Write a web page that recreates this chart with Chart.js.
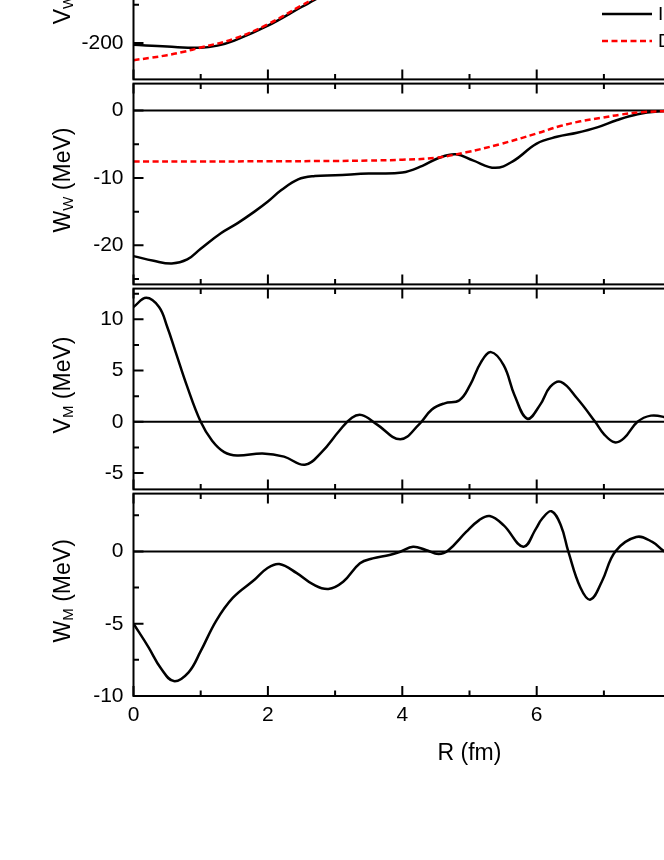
<!DOCTYPE html>
<html>
<head>
<meta charset="utf-8">
<script src="https://cdn.jsdelivr.net/npm/chart.js@4.4.1/dist/chart.umd.min.js"></script>
<style>
  html, body { margin: 0; padding: 0; background: #fff; overflow: hidden; }
  #fig { position: relative; width: 664px; height: 860px; overflow: hidden; background: #fff; }
  #fig canvas { position: absolute; left: 0; }
</style>
</head>
<body>
<div id="fig">
  <canvas id="pVW"></canvas>
  <canvas id="pWW"></canvas>
  <canvas id="pVM"></canvas>
  <canvas id="pWM"></canvas>
</div>
<script>
// R grids (fm) and potentials (MeV)
const rVW   = [0, 0.5, 1.0, 1.25, 1.5, 2.0, 2.5, 2.7, 3.0, 3.5, 4.0, 4.5, 5.0, 5.5, 6.0, 6.5, 7.0, 7.5, 8.0, 9.0, 10];
const vwInv = [-202.5, -204.8, -206.3, -203.5, -197, -177.5, -153, -143.5, -128, -104, -80, -58, -40, -26, -16, -9, -5, -2.5, -1.2, -0.3, 0];
const rVWdf = [0, 0.25, 0.5, 0.75, 1.0, 1.5, 2.0, 2.5, 2.7, 3.0, 3.5, 4.0, 4.5, 5.0, 5.5, 6.0, 6.5, 7.0, 7.5, 8.0, 9.0, 10];
const vwDF  = [-222.5, -219.5, -216, -211.5, -206, -194.5, -175.5, -151, -141.5, -127, -103, -80, -59, -41, -27, -17, -10, -6, -3.3, -1.8, -0.5, 0];

const rWW   = [0, 0.3, 0.57, 0.8, 1.0, 1.3, 1.55, 1.8, 2.0, 2.2, 2.45, 2.7, 3.0, 3.5, 4.0, 4.3, 4.55, 4.8, 5.05, 5.38, 5.65, 6.0, 6.3, 6.6, 6.9, 7.2, 7.5, 7.8, 8.2, 9.0, 10];
const wwInv = [-21.6, -22.3, -22.7, -22.1, -20.5, -18.2, -16.7, -15.0, -13.5, -11.8, -10.2, -9.7, -9.6, -9.35, -9.2, -8.2, -7.0, -6.5, -7.4, -8.5, -7.5, -4.9, -3.9, -3.3, -2.5, -1.4, -0.55, -0.15, -0.03, 0, 0];
const rWWdf = [0, 1, 2, 3, 3.5, 4.0, 4.5, 4.95, 5.45, 6.0, 6.35, 6.65, 6.95, 7.25, 7.55, 7.9, 8.5, 9.0, 10];
const wwDF  = [-7.55, -7.55, -7.53, -7.48, -7.42, -7.3, -7.0, -6.2, -5.0, -3.4, -2.3, -1.6, -1.1, -0.6, -0.25, -0.1, -0.02, 0, 0];

const rVM   = [0, 0.19, 0.38, 0.5, 0.63, 0.79, 1.0, 1.17, 1.35, 1.54, 1.92, 2.24, 2.55, 2.8, 3.06, 3.25, 3.4, 3.62, 3.97, 4.25, 4.44, 4.63, 4.85, 5.01, 5.17, 5.32, 5.51, 5.67, 5.86, 6.05, 6.2, 6.36, 6.6, 6.87, 7.0, 7.16, 7.3, 7.5, 7.7, 7.9, 8.2, 8.6, 9.0, 9.5, 10];
const vmInv = [11.2, 12.1, 11.2, 9.3, 6.75, 3.6, 0, -1.85, -2.96, -3.3, -3.1, -3.4, -4.2, -2.96, -0.9, 0.4, 0.65, -0.25, -1.7, -0.25, 1.2, 1.8, 2.1, 3.6, 5.8, 6.8, 5.5, 2.6, 0.3, 1.65, 3.4, 3.9, 2.3, 0, -1.2, -2.0, -1.6, 0, 0.6, 0.45, -0.2, 0.2, -0.1, 0.05, 0];

const rWM   = [0, 0.22, 0.41, 0.6, 0.82, 1.0, 1.23, 1.48, 1.8, 1.99, 2.17, 2.43, 2.68, 2.9, 3.12, 3.37, 3.56, 3.81, 3.97, 4.16, 4.35, 4.54, 4.69, 4.95, 5.14, 5.3, 5.51, 5.8, 5.99, 6.08, 6.22, 6.36, 6.47, 6.65, 6.8, 6.97, 7.17, 7.48, 7.72, 7.9, 8.2, 8.6, 9.0, 9.5, 10];
const wmInv = [-5.0, -6.6, -8.1, -8.97, -8.36, -6.9, -4.8, -3.2, -1.96, -1.16, -0.87, -1.5, -2.3, -2.6, -2.1, -0.82, -0.48, -0.25, -0.02, 0.32, 0.1, -0.18, 0.1, 1.35, 2.15, 2.45, 1.8, 0.32, 1.58, 2.26, 2.78, 1.8, 0, -2.5, -3.33, -2.08, 0, 1.0, 0.66, 0, -0.6, 0.2, -0.1, 0.05, 0];

const zeroR = [0, 10];
const zeroV = [0, 0];

const seriesNames = ['Inversion', 'Double folding'];
const xTickLabels = ['0', '2', '4', '6', '8', '10'];

const FONT = '"Liberation Sans", Arial, sans-serif';
const PLOT_LEFT = 133.5;
const CANVAS_W = 900;
const PLOT_RIGHT = 805.5;

function pts(xs, ys) {
    return xs.map((x, i) => ({ x: x, y: ys[i] }));
}

function isMultiple(v, step) {
    const q = v / step;
    return Math.abs(q - Math.round(q)) < 1e-6;
}

function solid(label, xs, ys) {
    return { label: label, data: pts(xs, ys), borderColor: '#000', borderWidth: 2.5, order: 1 };
}
function dashed(label, xs, ys) {
    return { label: label, data: pts(xs, ys), borderColor: '#ff0000', borderWidth: 2.5, borderDash: [6, 3.5], order: 0 };
}
function zero() {
    return { label: '', data: pts(zeroR, zeroV), borderColor: '#000', borderWidth: 2, order: 2, tension: 0 };
}

// frame box, inward tick marks, y title with subscript, legend
const decor = {
    id: 'decor',
    afterDatasetsDraw(chart, args, o) {
        const { ctx, chartArea: a, scales } = chart;
        const x = scales.x, y = scales.y;
        ctx.save();
        ctx.strokeStyle = '#000';
        ctx.lineWidth = 2;
        ctx.strokeRect(a.left, a.top, a.right - a.left, a.bottom - a.top);

        ctx.beginPath();
        x.ticks.forEach(t => {
            if (!isMultiple(t.value, 1)) return;
            const len = isMultiple(t.value, 2) ? 10 : 5.5;
            const px = x.getPixelForValue(t.value);
            ctx.moveTo(px, a.bottom); ctx.lineTo(px, a.bottom - len);
            ctx.moveTo(px, a.top); ctx.lineTo(px, a.top + len);
        });
        y.ticks.forEach(t => {
            if (!isMultiple(t.value, o.minor)) return;
            const len = isMultiple(t.value, o.major) ? 10 : 5.5;
            const py = y.getPixelForValue(t.value);
            ctx.moveTo(a.left, py); ctx.lineTo(a.left + len, py);
            ctx.moveTo(a.right, py); ctx.lineTo(a.right - len, py);
        });
        ctx.stroke();

        // y-axis title: main letter + subscript + " (MeV)"
        const big = '23px ' + FONT, small = '15px ' + FONT;
        ctx.font = big;
        const w1 = ctx.measureText(o.title[0]).width;
        const w3 = ctx.measureText(' (MeV)').width;
        ctx.font = small;
        const w2 = ctx.measureText(o.title[1]).width;
        const total = w1 + w2 + w3;
        const cy = (a.top + a.bottom) / 2 - 4;
        ctx.translate(70, cy);
        ctx.rotate(-Math.PI / 2);
        ctx.fillStyle = '#000';
        ctx.textBaseline = 'alphabetic';
        ctx.textAlign = 'left';
        let sx = -total / 2;
        ctx.font = big;
        ctx.fillText(o.title[0], sx, 0);
        sx += w1;
        ctx.font = small;
        ctx.fillText(o.title[1], sx, 3);
        sx += w2;
        ctx.font = big;
        ctx.fillText(' (MeV)', sx, 0);
        ctx.restore();

        if (o.legend) {
            ctx.save();
            const rows = [a.bottom - 65.5, a.bottom - 38.5];
            chart.data.datasets.slice(0, 2).forEach((ds, i) => {
                ctx.strokeStyle = ds.borderColor;
                ctx.lineWidth = ds.borderWidth;
                ctx.setLineDash(ds.borderDash || []);
                ctx.beginPath();
                ctx.moveTo(602, rows[i]);
                ctx.lineTo(652, rows[i]);
                ctx.stroke();
                ctx.setLineDash([]);
                ctx.fillStyle = '#000';
                ctx.font = '19px ' + FONT;
                ctx.textBaseline = 'middle';
                ctx.fillText(ds.label, 658, rows[i] + 0.5);
            });
            ctx.restore();
        }
    }
};

const panels = [
    { id: 'pVW', top: -123.5, h: 205, min: -247.7, max: 15, minor: 50, major: 100, title: ['V', 'W'], legend: true,
      datasets: [solid(seriesNames[0], rVW, vwInv), dashed(seriesNames[1], rVWdf, vwDF)] },
    { id: 'pWW', top: 81.5, h: 205, min: -25.8, max: 4, minor: 5, major: 10, title: ['W', 'W'],
      datasets: [solid(seriesNames[0], rWW, wwInv), dashed(seriesNames[1], rWWdf, wwDF), zero()] },
    { id: 'pVM', top: 286.5, h: 205, min: -6.6, max: 13, minor: 2.5, major: 5, title: ['V', 'M'],
      datasets: [solid(seriesNames[0], rVM, vmInv), zero()] },
    { id: 'pWM', top: 491.5, h: 204.5, min: -10, max: 4, minor: 2.5, major: 5, title: ['W', 'M'], bottom: true,
      datasets: [solid(seriesNames[0], rWM, wmInv), zero()] }
];

panels.forEach(p => {
    const canvas = document.getElementById(p.id);
    const padTop = 20.5;
    const axisH = p.bottom ? 90 : 0;
    const canvasTop = p.top - padTop;
    const canvasH = Math.ceil(padTop + p.h + axisH + 20);
    const padBottom = canvasH - padTop - p.h - axisH;
    canvas.width = CANVAS_W;
    canvas.height = canvasH;
    canvas.style.top = canvasTop + 'px';
    canvas.style.width = CANVAS_W + 'px';
    canvas.style.height = canvasH + 'px';

    new Chart(canvas.getContext('2d'), {
        type: 'line',
        data: { datasets: p.datasets },
        options: {
            responsive: false,
            animation: false,
            events: [],
            layout: { padding: { top: padTop, bottom: padBottom, left: 0, right: CANVAS_W - PLOT_RIGHT } },
            elements: {
                point: { radius: 0 },
                line: { cubicInterpolationMode: 'default', tension: 0.4, fill: false }
            },
            plugins: {
                legend: { display: false },
                tooltip: { enabled: false },
                decor: { minor: p.minor, major: p.major, title: p.title, legend: !!p.legend }
            },
            scales: {
                x: {
                    type: 'linear', min: 0, max: 10,
                    grid: { display: false, drawTicks: false },
                    border: { display: false },
                    afterFit: s => { s.height = axisH; },
                    ticks: {
                        display: !!p.bottom, stepSize: 1, autoSkip: false, maxRotation: 0, includeBounds: false,
                        padding: 7, color: '#000', font: { family: FONT, size: 21 },
                        callback: v => isMultiple(v, 2) ? xTickLabels[Math.round(v / 2)] : ''
                    },
                    title: {
                        display: !!p.bottom, text: 'R (fm)', color: '#000',
                        font: { family: FONT, size: 23 }, padding: { top: 0, bottom: 19 }
                    }
                },
                y: {
                    type: 'linear', min: p.min, max: p.max,
                    grid: { display: false, drawTicks: false },
                    border: { display: false },
                    afterFit: s => { s.width = PLOT_LEFT; },
                    ticks: {
                        stepSize: p.minor, autoSkip: false, includeBounds: false, padding: 10, color: '#000',
                        font: { family: FONT, size: 21 },
                        callback: v => isMultiple(v, p.major) ? String(Math.round(v)) : ''
                    }
                }
            }
        },
        plugins: [decor]
    });
});
</script>
</body>
</html>
